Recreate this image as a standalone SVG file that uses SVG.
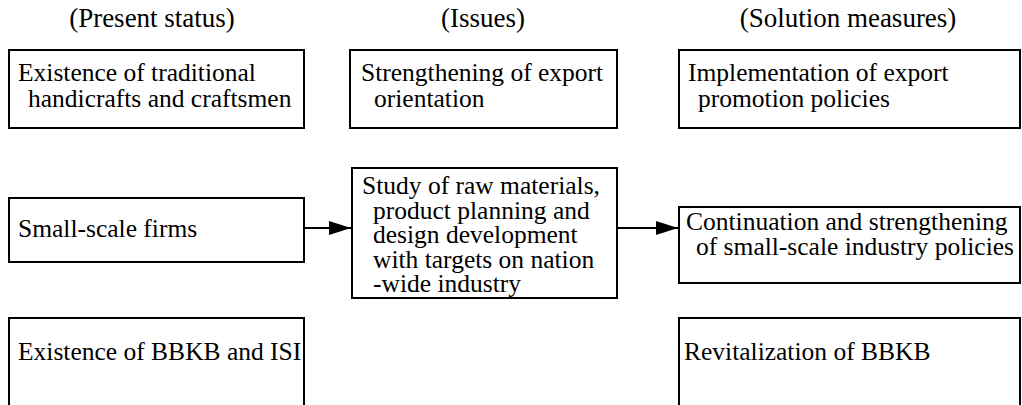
<svg xmlns="http://www.w3.org/2000/svg" width="1022" height="405" viewBox="0 0 1022 405">
  <defs>
    <marker id="arrow" viewBox="0 0 22 14" refX="22" refY="7" markerWidth="22" markerHeight="14" markerUnits="userSpaceOnUse" orient="auto">
      <path d="M0,0 L22,7 L0,14 Z" fill="#000"/>
    </marker>
    <style>
      .box { fill: #fff; stroke: #000; stroke-width: 2; }
      .hdr { font-family: 'Liberation Serif', 'DejaVu Serif', serif; font-size: 27px; fill: #000; }
      .txt { font-family: 'Liberation Serif', 'DejaVu Serif', serif; font-size: 25.5px; fill: #000; }
      .link { stroke: #000; stroke-width: 2; fill: none; }
    </style>
  </defs>
  <rect width="1022" height="405" fill="#fff"/>

  <!-- column headings -->
  <g id="headings">
    <text class="hdr" x="152" y="27" text-anchor="middle">(Present status)</text>
    <text class="hdr" x="483" y="27" text-anchor="middle">(Issues)</text>
    <text class="hdr" x="848" y="27" text-anchor="middle">(Solution measures)</text>
  </g>

  <!-- present status column -->
  <g id="node-traditional">
    <rect class="box" x="9" y="50" width="295" height="78"/>
    <text class="txt" x="18" y="81">Existence of traditional</text>
    <text class="txt" x="28" y="107">handicrafts and craftsmen</text>
  </g>
  <g id="node-small-firms">
    <rect class="box" x="9" y="198" width="295" height="64"/>
    <text class="txt" x="18" y="237">Small-scale firms</text>
  </g>
  <g id="node-bbkb-isi">
    <rect class="box" x="9" y="318" width="295" height="95"/>
    <text class="txt" x="18" y="360">Existence of BBKB and ISI</text>
  </g>

  <!-- issues column -->
  <g id="node-export-orientation">
    <rect class="box" x="350" y="50" width="267" height="78"/>
    <text class="txt" x="361" y="81">Strengthening of export</text>
    <text class="txt" x="374" y="107">orientation</text>
  </g>
  <g id="node-study">
    <rect class="box" x="352" y="168" width="265" height="130"/>
    <text class="txt" x="362" y="194">Study of raw materials,</text>
    <text class="txt" x="373" y="219">product planning and</text>
    <text class="txt" x="373" y="243">design development</text>
    <text class="txt" x="373" y="268">with targets on nation</text>
    <text class="txt" x="373" y="292">-wide industry</text>
  </g>

  <!-- solution measures column -->
  <g id="node-export-promotion">
    <rect class="box" x="679" y="50" width="341" height="78"/>
    <text class="txt" x="688" y="81">Implementation of export</text>
    <text class="txt" x="698" y="107">promotion policies</text>
  </g>
  <g id="node-small-industry">
    <rect class="box" x="679" y="207" width="341" height="76"/>
    <text class="txt" x="686" y="230">Continuation and strengthening</text>
    <text class="txt" x="696" y="255">of small-scale industry policies</text>
  </g>
  <g id="node-revitalization">
    <rect class="box" x="679" y="318" width="341" height="95"/>
    <text class="txt" x="684" y="360">Revitalization of BBKB</text>
  </g>

  <!-- connectors -->
  <g id="connectors">
    <line class="link" x1="304" y1="228" x2="351" y2="228" marker-end="url(#arrow)"/>
    <line class="link" x1="617" y1="228" x2="678" y2="228" marker-end="url(#arrow)"/>
  </g>
</svg>
